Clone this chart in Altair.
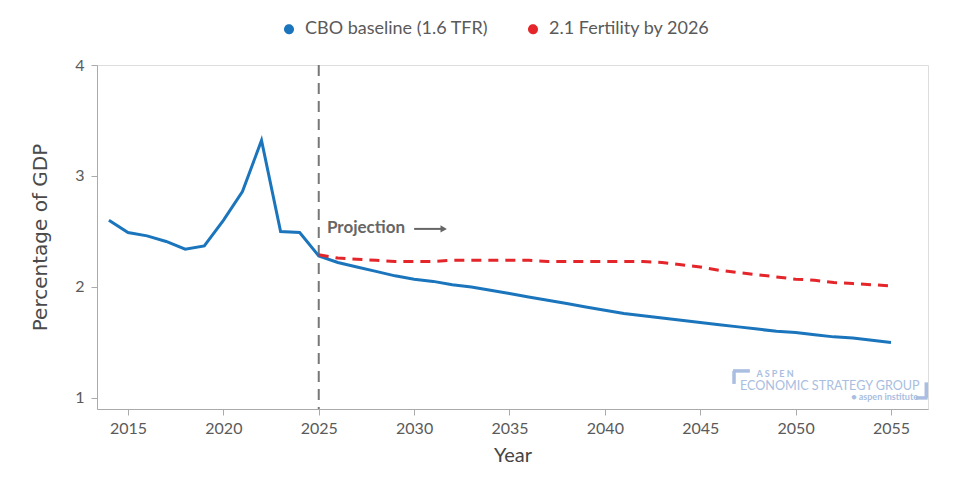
import altair as alt
import pandas as pd

# ---- data ----
hist_years = list(range(2014, 2025))
hist_vals = [2.60, 2.49, 2.46, 2.41, 2.34, 2.37, 2.60, 2.86, 3.32, 2.50, 2.49]

proj_years = list(range(2025, 2056))
cbo_proj = [2.28, 2.22, 2.18, 2.14, 2.10, 2.07, 2.05, 2.02, 2.00, 1.97,
            1.94, 1.91, 1.88, 1.85, 1.82, 1.79, 1.76, 1.74, 1.72, 1.70,
            1.68, 1.66, 1.64, 1.62, 1.60, 1.59, 1.57, 1.55, 1.54, 1.52, 1.50]
fert_proj = [2.29, 2.26, 2.25, 2.24, 2.23, 2.23, 2.23, 2.24, 2.24, 2.24,
             2.24, 2.24, 2.23, 2.23, 2.23, 2.23, 2.23, 2.23, 2.22, 2.20,
             2.18, 2.15, 2.13, 2.11, 2.09, 2.07, 2.06, 2.04, 2.03, 2.02, 2.01]

series_names = ["CBO baseline (1.6 TFR)", "2.1 Fertility by 2026"]
series_colors = ["#1b75bc", "#e4262b"]

x_ticks = [2015, 2020, 2025, 2030, 2035, 2040, 2045, 2050, 2055]
y_ticks = [1, 2, 3, 4]
x_domain = [2013.375, 2056.94]
y_domain = [0.9, 4]

projection_start = 2025

df_cbo = pd.DataFrame({"year": hist_years + proj_years,
                       "value": hist_vals + cbo_proj,
                       "series": series_names[0]})
df_fert = pd.DataFrame({"year": proj_years, "value": fert_proj,
                        "series": series_names[1]})

FONT = "Lato"
GREY = "#5a5a5a"
AX = "#aaaaaa"
LOGO = "#a9bee0"

xs = alt.Scale(domain=x_domain, nice=False, zero=False)
ys = alt.Scale(domain=y_domain, nice=False, zero=False)

x_enc = alt.X("year:Q", scale=xs,
              axis=alt.Axis(title="Year", values=x_ticks, format="d", grid=False,
                            domainColor=AX, tickColor=AX, tickSize=6,
                            labelFont=FONT, labelFontSize=16,
                            labelColor=GREY, labelPadding=5,
                            titleFont=FONT, titleFontSize=20, titleFontWeight="normal",
                            titleColor="#444444", titlePadding=9))
y_enc = alt.Y("value:Q", scale=ys,
              axis=alt.Axis(title="Percentage of GDP", values=y_ticks, format="d", grid=False,
                            domainColor=AX, tickColor=AX, tickSize=6,
                            labelFont=FONT, labelFontSize=16,
                            labelColor=GREY, labelPadding=7,
                            titleFont="DejaVu Sans", titleFontSize=20, titleFontWeight="normal",
                            titleColor="#4a4a4a", titlePadding=24))
color_enc = alt.Color("series:N",
                      scale=alt.Scale(domain=series_names, range=series_colors),
                      legend=alt.Legend(title=None, orient="none", direction="horizontal",
                                        legendX=183, legendY=-45,
                                        symbolType="circle", symbolSize=25,
                                        symbolStrokeWidth=5, symbolOpacity=1,
                                        symbolDash=[1, 0],
                                        labelFont=FONT, labelFontSize=18, labelColor=GREY,
                                        labelLimit=400, labelOffset=7, columnPadding=31))

rule_df = pd.DataFrame({"year": [projection_start]})
vrule = alt.Chart(rule_df).mark_rule(color="#777777", strokeWidth=2, strokeDash=[11, 7]).encode(
    x=alt.X("year:Q", scale=xs)
)

cbo_line = alt.Chart(df_cbo).mark_line(strokeWidth=3, clip=True).encode(
    x=x_enc, y=y_enc, color=color_enc)
fert_line = alt.Chart(df_fert).mark_line(strokeWidth=3, strokeDash=[10, 7], clip=True).encode(
    x=alt.X("year:Q", scale=xs), y=alt.Y("value:Q", scale=ys), color=color_enc)

ann_df = pd.DataFrame({"year": [2025.43], "value": [2.53], "label": ["Projection"]})
ann = alt.Chart(ann_df).mark_text(align="left", baseline="middle", font=FONT,
                                  fontSize=17, fontWeight="bold", color="#666666").encode(
    x=alt.X("year:Q", scale=xs), y=alt.Y("value:Q", scale=ys), text="label:N")

arrow_df = pd.DataFrame({"x1": [2030.0], "x2": [2031.5], "value": [2.523]})
arrow_line = alt.Chart(arrow_df).mark_rule(color="#666666", strokeWidth=2).encode(
    x=alt.X("x1:Q", scale=xs), x2="x2:Q", y=alt.Y("value:Q", scale=ys))
head_df = pd.DataFrame({"x": [2031.55], "value": [2.523]})
arrow_head = alt.Chart(head_df).mark_point(shape="triangle-right", filled=True, size=55,
                                          color="#666666", opacity=1).encode(
    x=alt.X("x:Q", scale=xs), y=alt.Y("value:Q", scale=ys))

logo1 = pd.DataFrame({"x": [2047.95], "value": [1.216], "label": ["A S P E N"]})
logo2 = pd.DataFrame({"x": [2047.08], "value": [1.11], "label": ["ECONOMIC STRATEGY GROUP"]})
logo3 = pd.DataFrame({"x": [2056.42], "value": [1.008], "label": ["● aspen institute"]})

t1 = alt.Chart(logo1).mark_text(align="left", baseline="middle", font=FONT, fontSize=9,
                                fontWeight="bold", color=LOGO).encode(
    x=alt.X("x:Q", scale=xs), y=alt.Y("value:Q", scale=ys), text="label:N")
t2 = alt.Chart(logo2).mark_text(align="left", baseline="middle", font=FONT, fontSize=12.6,
                                color=LOGO).encode(
    x=alt.X("x:Q", scale=xs), y=alt.Y("value:Q", scale=ys), text="label:N")
t3 = alt.Chart(logo3).mark_text(align="right", baseline="middle", font=FONT, fontSize=9,
                                fontWeight="bold", color=LOGO).encode(
    x=alt.X("x:Q", scale=xs), y=alt.Y("value:Q", scale=ys), text="label:N")

bracket_df = pd.DataFrame({
    "x1": [2046.72, 2046.77, 2056.3, 2056.85],
    "x2": [2047.6, 2046.77, 2056.92, 2056.85],
    "y1": [1.243, 1.243, 1.0, 1.0],
    "y2": [1.243, 1.126, 1.0, 1.14],
})
brackets = alt.Chart(bracket_df).mark_rule(color=LOGO, strokeWidth=3.5).encode(
    x=alt.X("x1:Q", scale=xs), x2="x2:Q", y=alt.Y("y1:Q", scale=ys), y2="y2:Q")

chart = alt.layer(cbo_line, vrule, fert_line, ann, arrow_line, arrow_head,
                  brackets, t1, t2, t3).properties(
    width=831, height=344,
    autosize=alt.AutoSizeParams(type="none"),
    padding={"left": 89, "top": 57, "right": 25, "bottom": 60},
).configure_view(strokeWidth=0).configure(background="white")

# draw the dashed projection rule beneath the data lines
chart.layer = [chart.layer[1], chart.layer[0]] + list(chart.layer[2:])

chart.save("out.html", embed_options={"renderer": "svg", "actions": False})
